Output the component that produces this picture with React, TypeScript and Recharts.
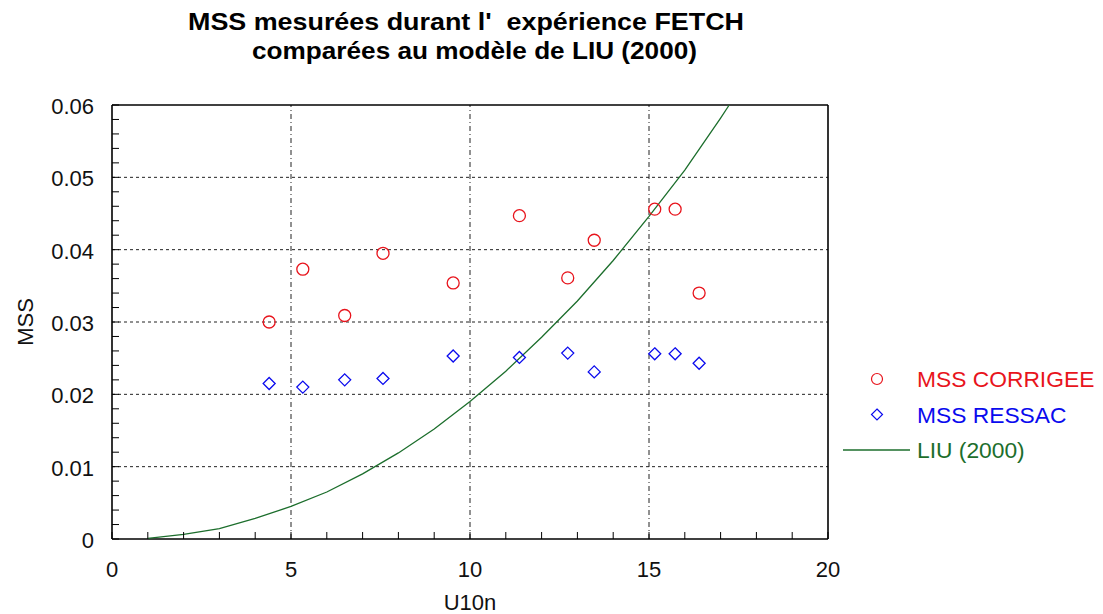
import React from "react";
import {
  ScatterChart,
  Scatter,
  XAxis,
  YAxis,
  ReferenceLine,
  Label,
} from "recharts";

// U10n (m/s) for each FETCH measurement
const windSpeed = [4.39, 5.33, 6.5, 7.57, 9.53, 11.38, 12.73, 13.47, 15.16, 15.73, 16.4];
const mssCorrigee = [0.03, 0.0373, 0.0309, 0.0395, 0.0354, 0.0447, 0.0361, 0.0413, 0.0456, 0.0456, 0.034];
const mssRessac = [0.0215, 0.021, 0.022, 0.0222, 0.0253, 0.0251, 0.0257, 0.0231, 0.0256, 0.0256, 0.0243];

// LIU (2000) model curve
const liuU = [1, 2, 3, 4, 5, 6, 7, 8, 9, 10, 11, 12, 13, 14, 15, 16, 17, 17.24];
const liuMss = [
  0.0001, 0.00065, 0.00143, 0.00286, 0.0045, 0.0065, 0.009, 0.0119, 0.0152, 0.019,
  0.0232, 0.0279, 0.0329, 0.0385, 0.0446, 0.051, 0.0582, 0.06,
];

const xMajor = [0, 5, 10, 15, 20];
const yMajor = [0, 0.01, 0.02, 0.03, 0.04, 0.05, 0.06];
const xTicks = Array.from({ length: 21 }, (_, i) => i);
const yTicks = Array.from({ length: 31 }, (_, i) => +(i * 0.002).toFixed(3));

const RED = "#e8141c";
const BLUE = "#0a0aee";
const GREEN = "#1c6e2c";
const FONT = "'Liberation Sans', Arial, sans-serif";

const W = 1103;
const H = 614;
// axes take 1px each, so the plot box is 112..828 x 105..539
const margin = { top: 104, right: 274, bottom: 74, left: 111 };

const corrigee = windSpeed.map((u, i) => ({ u, mss: mssCorrigee[i] }));
const ressac = windSpeed.map((u, i) => ({ u, mss: mssRessac[i] }));
const liu = liuU.map((u, i) => ({ u, mss: liuMss[i] }));

const isMajorY = (v: number) => Math.abs(v * 100 - Math.round(v * 100)) < 1e-6;

const BottomTick = (p: any) => {
  const v = p.payload.value;
  return (
    <g>
      <line x1={p.x} x2={p.x} y1={p.y} y2={p.y - 7} stroke="#000" strokeWidth={1} />
      {v % 5 === 0 && (
        <text x={p.x} y={p.y + 38} textAnchor="middle" fontSize={22} fontFamily={FONT} fill="#111">
          {v}
        </text>
      )}
    </g>
  );
};

const TopTick = (p: any) => (
  <line x1={p.x} x2={p.x} y1={p.y} y2={p.y + 7} stroke="#000" strokeWidth={1} />
);

const LeftTick = (p: any) => {
  const v = p.payload.value;
  return (
    <g>
      <line x1={p.x} x2={p.x + 7} y1={p.y} y2={p.y} stroke="#000" strokeWidth={1} />
      {isMajorY(v) && (
        <text x={p.x - 18} y={p.y + 9} textAnchor="end" fontSize={22} fontFamily={FONT} fill="#111">
          {String(Math.round(v * 100) / 100)}
        </text>
      )}
    </g>
  );
};

const RightTick = (p: any) => (
  <line x1={p.x} x2={p.x - 7} y1={p.y} y2={p.y} stroke="#000" strokeWidth={1} />
);

const Circle = (p: any) => (
  <circle cx={p.cx} cy={p.cy} r={6} fill="none" stroke={RED} strokeWidth={1.3} />
);

const Diamond = (p: any) => (
  <polygon
    points={`${p.cx},${p.cy - 6} ${p.cx + 6},${p.cy} ${p.cx},${p.cy + 6} ${p.cx - 6},${p.cy}`}
    fill="none"
    stroke={BLUE}
    strokeWidth={1.3}
  />
);

const NoDot = () => <g />;

const legendItems = [
  { name: "MSS CORRIGEE", color: RED, kind: "circle" },
  { name: "MSS RESSAC", color: BLUE, kind: "diamond" },
  { name: "LIU (2000)", color: GREEN, kind: "line" },
];

function Overlay() {
  return (
    <svg width={W} height={H} style={{ position: "absolute", left: 0, top: 0, pointerEvents: "none" }}>
      <text x={188} y={30} fontSize={24} fontWeight="bold" fontFamily={FONT} textLength={556} lengthAdjust="spacingAndGlyphs" style={{ whiteSpace: "pre" }}>
        {"MSS mesurées durant l'  expérience FETCH"}
      </text>
      <text x={252} y={59} fontSize={24} fontWeight="bold" fontFamily={FONT} textLength={445} lengthAdjust="spacingAndGlyphs">
        comparées au modèle de LIU (2000)
      </text>
      {legendItems.map((it, i) => {
        const cy = 379 + i * 35.5;
        return (
          <g key={it.name}>
            {it.kind === "circle" && <circle cx={877} cy={cy} r={5.5} fill="none" stroke={it.color} strokeWidth={1.2} />}
            {it.kind === "diamond" && (
              <polygon
                points={`877,${cy - 5.5} 882.5,${cy} 877,${cy + 5.5} 871.5,${cy}`}
                fill="none"
                stroke={it.color}
                strokeWidth={1.2}
              />
            )}
            {it.kind === "line" && <line x1={843} x2={910} y1={cy} y2={cy} stroke={it.color} strokeWidth={1.3} />}
            <text x={917} y={cy + 8} fontSize={22.8} fontFamily={FONT} fill={it.color}>
              {it.name}
            </text>
          </g>
        );
      })}
    </svg>
  );
}

export default function App() {
  return (
    <div style={{ position: "absolute", left: 0, top: 0, width: W, height: H, background: "#fff" }}>
      <ScatterChart width={W} height={H} margin={margin}>
        <XAxis
          xAxisId="bottom"
          type="number"
          dataKey="u"
          domain={[0, 20]}
          ticks={xTicks}
          interval={0}
          height={1}
          tickSize={0}
          tickMargin={0}
          tick={(p: any) => <BottomTick {...p} />}
          axisLine={{ stroke: "#000", strokeWidth: 1.6 }}
        >
          <Label
            content={(p: any) => (
              <text x={p.viewBox.x + p.viewBox.width / 2} y={p.viewBox.y + 71} textAnchor="middle" fontSize={22} fontFamily={FONT} fill="#111">
                U10n
              </text>
            )}
          />
        </XAxis>
        <XAxis
          xAxisId="top"
          orientation="top"
          type="number"
          dataKey="u"
          domain={[0, 20]}
          ticks={xTicks}
          interval={0}
          height={1}
          tickSize={0}
          tickMargin={0}
          tick={(p: any) => <TopTick {...p} />}
          axisLine={{ stroke: "#000", strokeWidth: 1.6 }}
        />
        <YAxis
          yAxisId="left"
          type="number"
          dataKey="mss"
          domain={[0, 0.06]}
          ticks={yTicks}
          interval={0}
          width={1}
          tickSize={0}
          tickMargin={0}
          tick={(p: any) => <LeftTick {...p} />}
          axisLine={{ stroke: "#000", strokeWidth: 1.6 }}
        >
          <Label
            content={(p: any) => {
              const cx = p.viewBox.x - 86;
              const cy = p.viewBox.y + p.viewBox.height / 2;
              return (
                <text x={cx} y={cy} transform={`rotate(-90 ${cx} ${cy})`} textAnchor="middle" dominantBaseline="central" fontSize={22} fontFamily={FONT} fill="#111">
                  MSS
                </text>
              );
            }}
          />
        </YAxis>
        <YAxis
          yAxisId="right"
          orientation="right"
          type="number"
          dataKey="mss"
          domain={[0, 0.06]}
          ticks={yTicks}
          interval={0}
          width={1}
          tickSize={0}
          tickMargin={0}
          tick={(p: any) => <RightTick {...p} />}
          axisLine={{ stroke: "#000", strokeWidth: 1.6 }}
        />
        {xMajor.slice(1, -1).map((v) => (
          <ReferenceLine key={"gx" + v} x={v} xAxisId="bottom" yAxisId="left" stroke="#222" strokeWidth={1} strokeDasharray="5 3 1 3" />
        ))}
        {yMajor.slice(1, -1).map((v) => (
          <ReferenceLine key={"gy" + v} y={v} xAxisId="bottom" yAxisId="left" stroke="#222" strokeWidth={1} strokeDasharray="3 3" />
        ))}
        <Scatter name="LIU (2000)" data={liu} xAxisId="bottom" yAxisId="left" line={{ stroke: GREEN, strokeWidth: 1.3 }} lineType="joint" shape={NoDot} isAnimationActive={false} />
        <Scatter name="MSS CORRIGEE" data={corrigee} xAxisId="bottom" yAxisId="left" shape={Circle} isAnimationActive={false} />
        <Scatter name="MSS RESSAC" data={ressac} xAxisId="bottom" yAxisId="left" shape={Diamond} isAnimationActive={false} />
      </ScatterChart>
      <Overlay />
    </div>
  );
}
